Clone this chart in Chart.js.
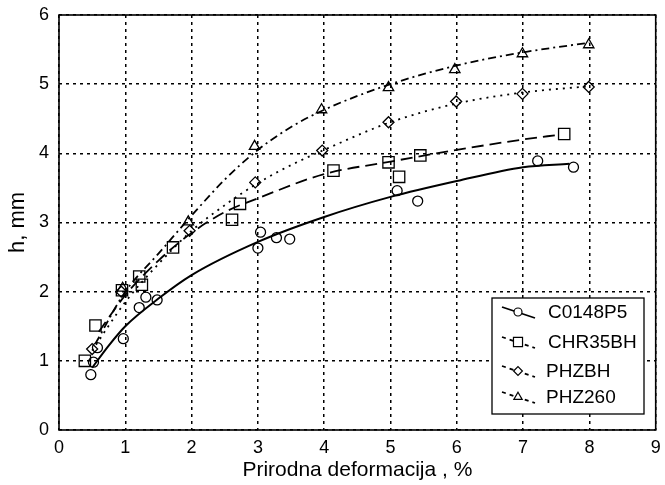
<!DOCTYPE html>
<html>

<head>
  <title>Document</title>
  <style>
    body { margin: 0; background: #fff; }
  </style>
</head>

<body>
  <canvas id="chart" width="665" height="485"></canvas>
  <script src="https://cdn.jsdelivr.net/npm/chart.js"></script>
  <script>
    // measured points
    const c0148X = [0.48, 0.52, 0.58, 0.97, 1.21, 1.31, 1.48, 3.0, 3.04, 3.28, 3.48, 5.1, 5.41, 7.22, 7.76];
    const c0148Y = [0.8, 0.98, 1.19, 1.32, 1.77, 1.92, 1.88, 2.63, 2.86, 2.78, 2.76, 3.46, 3.31, 3.89, 3.8];
    const chrX = [0.39, 0.55, 0.95, 1.21, 1.25, 1.72, 2.61, 2.73, 4.14, 4.97, 5.13, 5.45, 7.62];
    const chrY = [1.0, 1.51, 2.02, 2.22, 2.1, 2.64, 3.04, 3.27, 3.75, 3.87, 3.66, 3.97, 4.28];
    const phzbhX = [0.5, 0.94, 1.97, 2.96, 3.97, 4.97, 5.99, 6.99, 7.99];
    const phzbhY = [1.17, 2.0, 2.88, 3.58, 4.04, 4.45, 4.75, 4.86, 4.96];
    const phz260X = [0.96, 1.95, 2.95, 3.96, 4.97, 5.97, 6.99, 7.99];
    const phz260Y = [2.05, 3.01, 4.1, 4.63, 4.95, 5.21, 5.44, 5.57];

    // fitted curves
    const c0148FitX = [0.5, 0.75, 1, 1.5, 2, 3, 4, 5, 6, 7, 7.7];
    const c0148FitY = [0.9, 1.22, 1.5, 1.9, 2.24, 2.72, 3.08, 3.37, 3.6, 3.8, 3.85];
    const chrFitX = [0.6, 1, 1.5, 2, 2.5, 3, 4, 5, 6, 7, 7.55];
    const chrFitY = [1.42, 1.95, 2.45, 2.85, 3.15, 3.35, 3.7, 3.88, 4.05, 4.2, 4.27];
    const phzbhFitX = [0.5, 1, 1.5, 2, 2.5, 3, 3.5, 4, 5, 6, 7, 8];
    const phzbhFitY = [1.15, 1.85, 2.4, 2.88, 3.25, 3.57, 3.83, 4.05, 4.45, 4.72, 4.88, 4.97];
    const phz260FitX = [0.55, 1, 1.5, 2, 2.5, 3, 3.5, 4, 5, 6, 7, 8];
    const phz260FitY = [1.25, 2.0, 2.55, 3.1, 3.62, 4.05, 4.38, 4.63, 5.0, 5.27, 5.46, 5.6];

    const seriesNames = ['C0148P5', 'CHR35BH', 'PHZBH', 'PHZ260'];
    const markerStyles = ['circle', 'rect', 'rectRot', 'triangle'];
    const markerSizes = [5, 8, 5.5, 6];
    const dashStyles = [[], [12, 6], [2, 5], [8, 4, 2, 4]];

    const xTicks = [0, 1, 2, 3, 4, 5, 6, 7, 8, 9];
    const yTicks = [0, 1, 2, 3, 4, 5, 6];

    const FONT = 'Liberation Sans, Arial, sans-serif';

    function pts(xs, ys) {
      return xs.map((x, i) => ({ x: x, y: ys[i] }));
    }

    const markerSets = [[c0148X, c0148Y], [chrX, chrY], [phzbhX, phzbhY], [phz260X, phz260Y]];
    const fitSets = [[c0148FitX, c0148FitY], [chrFitX, chrFitY], [phzbhFitX, phzbhFitY], [phz260FitX, phz260FitY]];

    const datasets = [];
    fitSets.forEach((s, i) => {
      datasets.push({
        label: seriesNames[i] + ' fit',
        data: pts(s[0], s[1]),
        showLine: true,
        cubicInterpolationMode: 'monotone',
        borderColor: '#000',
        borderWidth: i == 0 ? 2 : 1.8,
        borderDash: dashStyles[i],
        pointRadius: 0,
        fill: false
      });
    });
    markerSets.forEach((s, i) => {
      datasets.push({
        label: seriesNames[i],
        data: pts(s[0], s[1]),
        showLine: false,
        pointStyle: markerStyles[i],
        pointRadius: markerSizes[i],
        pointBorderColor: '#000',
        pointBackgroundColor: 'rgba(255,255,255,0)',
        pointBorderWidth: 1.3
      });
    });

    const framePlugin = {
      id: 'frame',
      afterDatasetsDraw(chart) {
        const a = chart.chartArea;
        const c = chart.ctx;
        c.save();
        c.strokeStyle = '#000';
        c.lineWidth = 1.6;
        c.strokeRect(a.left, a.top, a.right - a.left, a.bottom - a.top);

        // legend box
        const bx = 492, by = 298, bw = 152, bh = 116;
        c.fillStyle = '#fff';
        c.fillRect(bx, by, bw, bh);
        c.lineWidth = 1.3;
        c.strokeRect(bx, by, bw, bh);
        const rows = [312, 342, 371, 397];
        c.font = '19px ' + FONT;
        c.textBaseline = 'middle';
        rows.forEach((ry, i) => {
          c.strokeStyle = '#000';
          c.lineWidth = 1.8;
          c.setLineDash(i == 0 ? [] : [4, 4]);
          c.beginPath();
          c.moveTo(502, ry - 5);
          c.lineTo(535, ry + 6);
          c.stroke();
          c.setLineDash([]);
          c.fillStyle = '#fff';
          c.lineWidth = 1.2;
          Chart.helpers.drawPoint(c, { pointStyle: markerStyles[i], radius: markerSizes[i] * 0.8, borderWidth: 1.2 }, 518, ry);
          c.fillStyle = '#000';
          c.fillText(seriesNames[i], i < 2 ? 548 : 546, ry + 1);
        });
        c.restore();
      }
    };

    const bg = {
      id: 'bg',
      beforeDraw(chart) {
        const c = chart.ctx;
        c.save();
        c.fillStyle = '#fff';
        c.fillRect(0, 0, chart.width, chart.height);
        c.restore();
      }
    };

    const ctx = document.getElementById('chart').getContext('2d');
    const chart = new Chart(ctx, {
      type: 'scatter',
      data: { datasets: datasets },
      options: {
        responsive: false,
        animation: false,
        devicePixelRatio: 1,
        layout: { padding: { top: 15, right: 3, left: 0, bottom: 0 } },
        plugins: { legend: { display: false }, tooltip: { enabled: false } },
        scales: {
          x: {
            type: 'linear',
            min: 0,
            max: 9,
            afterBuildTicks: (s) => { s.ticks = xTicks.map(v => ({ value: v })); },
            afterFit: (s) => { s.height = 55; s.paddingLeft = 0; s.paddingRight = 0; },
            ticks: { color: '#000', padding: 7, font: { family: FONT, size: 18 }, maxRotation: 0 },
            grid: { color: '#000', lineWidth: 1.5, drawTicks: false },
            border: { display: false, dash: [3, 4] },
            title: { display: true, text: 'Prirodna deformacija , %', color: '#000', font: { family: FONT, size: 21 }, padding: { top: 0, bottom: 2 } }
          },
          y: {
            type: 'linear',
            min: 0,
            max: 6,
            afterBuildTicks: (s) => { s.ticks = yTicks.map(v => ({ value: v })); },
            afterFit: (s) => { s.width = 59; s.paddingTop = 0; s.paddingBottom = 0; },
            ticks: { color: '#000', padding: 10, font: { family: FONT, size: 18 } },
            grid: { color: '#000', lineWidth: 1.5, drawTicks: false },
            border: { display: false, dash: [3, 4] },
            title: { display: true, text: 'h, mm', color: '#000', font: { family: FONT, size: 22 }, padding: { bottom: 0, top: 5 } }
          }
        }
      },
      plugins: [bg, framePlugin]
    });
  </script>
</body>

</html>
